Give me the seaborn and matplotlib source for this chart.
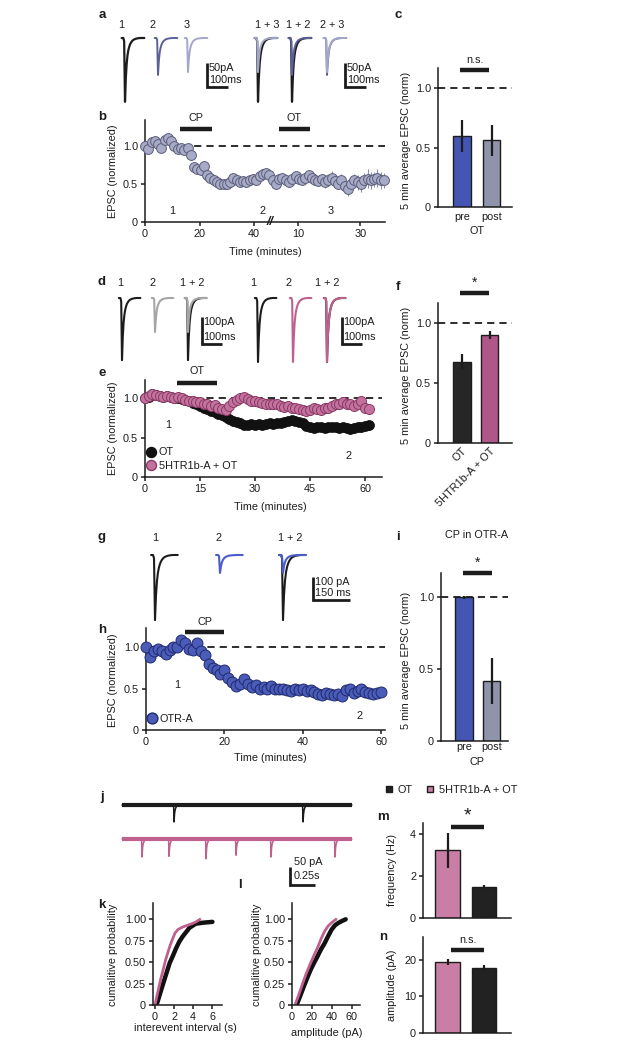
import numpy as np
import matplotlib
matplotlib.use("Agg")
import matplotlib.pyplot as plt
from matplotlib.lines import Line2D
from matplotlib.transforms import Affine2D
import seaborn as sns

# ---------------- data ----------------
# normalised EPSC waveform, 4 ms samples (peak at index 4)
epsc_template = [0.0, 0.0, 0.0, -0.05, -1.0, -0.62, -0.40, -0.27, -0.19, -0.14,
                 -0.10, -0.075, -0.055, -0.04, -0.03, -0.022, -0.016, -0.012,
                 -0.008, -0.005, -0.003, -0.002, 0.0, 0.0, 0.0, 0.0, 0.0, 0.0]
template_peak = 4

# a: example EPSCs (pA) for epochs 1, 2, 3 and their overlays
a_amps = [133, 77, 71]
a_groups = [[0], [1], [2], [0, 2], [0, 1], [1, 2]]
a_labels = ["1", "2", "3", "1 + 3", "1 + 2", "2 + 3"]

# b: time course, CP then OT
b_time = np.arange(0, 88, 1.2)
b_epsc = [1.00, 0.96, 1.05, 1.06, 1.02, 0.97, 1.08, 1.10, 1.06, 1.00,
          0.96, 0.97, 0.94, 0.97, 0.88, 0.72, 0.70, 0.68, 0.73, 0.62,
          0.58, 0.55, 0.52, 0.50, 0.50, 0.50, 0.53, 0.58, 0.55, 0.52,
          0.54, 0.52, 0.55, 0.57, 0.55, 0.60, 0.63, 0.64, 0.62, 0.55,
          0.50, 0.56, 0.58, 0.55, 0.52, 0.56, 0.60, 0.57, 0.55, 0.58,
          0.62, 0.58, 0.55, 0.54, 0.57, 0.52, 0.55, 0.58, 0.54, 0.50,
          0.55, 0.47, 0.44, 0.50, 0.55, 0.52, 0.50, 0.55, 0.57, 0.55,
          0.56, 0.58, 0.55, 0.55]
b_sem = [0.02, 0.02, 0.02, 0.02, 0.02, 0.02, 0.02, 0.02, 0.02, 0.02,
         0.02, 0.02, 0.02, 0.02, 0.02, 0.02, 0.02, 0.02, 0.02, 0.02,
         0.02, 0.02, 0.02, 0.02, 0.02, 0.02, 0.02, 0.02, 0.02, 0.02,
         0.02, 0.02, 0.02, 0.02, 0.02, 0.03, 0.03, 0.03, 0.03, 0.03,
         0.03, 0.03, 0.03, 0.03, 0.03, 0.04, 0.04, 0.04, 0.04, 0.04,
         0.05, 0.05, 0.05, 0.06, 0.06, 0.07, 0.08, 0.09, 0.08, 0.07,
         0.08, 0.09, 0.10, 0.09, 0.08, 0.10, 0.11, 0.10, 0.12, 0.11,
         0.10, 0.12, 0.11, 0.10]
b_xticks = [0, 20, 40, 56, 79]
b_xticklabels = ["0", "20", "40", "10", "30"]

# c: 5 min average, OT pre / post
c_groups = ["pre", "post"]
c_mean = [0.60, 0.56]
c_sem = [0.135, 0.13]

# d: example EPSCs, OT alone and 5HTR1b-A + OT
d_amps = [230, 126, 237, 237]
d_groups = [[0], [1], [0, 1], [2], [3], [2, 3]]
d_labels = ["1", "2", "1 + 2", "1", "2", "1 + 2"]

# e: time course
e_time = np.arange(0, 62)
e_ot = [1.00, 1.02, 1.05, 1.04, 1.03, 1.02, 1.03, 1.02, 1.00,
        1.00, 0.99, 0.98, 0.96, 0.94, 0.92,
        0.90, 0.88, 0.86, 0.84, 0.82, 0.80, 0.78, 0.76,
        0.73, 0.71, 0.70, 0.68, 0.66, 0.66, 0.67,
        0.66, 0.67, 0.66, 0.67, 0.68, 0.67, 0.68, 0.69, 0.70, 0.71, 0.72, 0.71, 0.70, 0.68,
        0.65, 0.63, 0.62, 0.63, 0.64, 0.62, 0.63, 0.64, 0.63, 0.62, 0.63, 0.62, 0.61, 0.62,
        0.64, 0.63, 0.65, 0.66]
e_ot_sem = [0.02, 0.02, 0.02, 0.02, 0.02, 0.02, 0.02, 0.02, 0.02, 0.02,
            0.02, 0.02, 0.03, 0.03, 0.03, 0.03, 0.03, 0.03, 0.03, 0.03,
            0.04, 0.04, 0.04, 0.04, 0.04, 0.04, 0.04, 0.04, 0.04, 0.04,
            0.04, 0.04, 0.04, 0.04, 0.04, 0.04, 0.05, 0.05, 0.05, 0.05,
            0.05, 0.05, 0.05, 0.05, 0.05, 0.05, 0.05, 0.05, 0.05, 0.05,
            0.05, 0.05, 0.05, 0.05, 0.05, 0.06, 0.06, 0.06, 0.06, 0.06,
            0.06, 0.06]
e_5ht = [1.00, 1.03, 1.05, 1.04, 1.03, 1.02, 1.03, 1.01, 1.00,
         1.02, 1.00, 0.98, 0.97, 0.96, 0.95,
         0.95, 0.93, 0.92, 0.90, 0.91, 0.88, 0.86, 0.85,
         0.90, 0.95, 0.98, 1.00, 1.02, 0.99, 0.97,
         0.96, 0.95, 0.94, 0.93, 0.92, 0.93, 0.92, 0.90, 0.89, 0.90, 0.88, 0.87, 0.86, 0.85,
         0.84, 0.85, 0.87, 0.86, 0.85, 0.87, 0.88, 0.90, 0.92, 0.93, 0.95, 0.93, 0.92, 0.90,
         0.93, 0.97, 0.88, 0.86]

# f: 5 min average
f_groups = ["OT", "5HTR1b-A + OT"]
f_mean = [0.68, 0.90]
f_sem = [0.06, 0.035]

# g: example EPSCs, OTR-A
g_amps = [283, 78]
g_groups = [[0], [1], [0, 1]]
g_labels = ["1", "2", "1 + 2"]

# h: time course, CP in OTR-A
h_time = np.arange(0, 61)
h_otra = [1.00, 0.88, 0.95, 0.98, 0.95, 0.92, 0.97, 1.00, 1.00, 1.08,
          1.05, 0.98, 0.96, 1.05, 0.95, 0.90, 0.80, 0.75, 0.72, 0.68,
          0.72, 0.63, 0.58, 0.53, 0.55, 0.62, 0.56, 0.52, 0.54, 0.50,
          0.52, 0.50, 0.53, 0.49, 0.50, 0.50, 0.48, 0.47, 0.50, 0.48,
          0.50, 0.47, 0.48, 0.46, 0.44, 0.42, 0.45, 0.44, 0.42, 0.43,
          0.41, 0.48, 0.50, 0.45, 0.47, 0.50, 0.46, 0.45, 0.44, 0.45,
          0.46]
h_sem = [0.02, 0.02, 0.02, 0.02, 0.02, 0.02, 0.02, 0.02, 0.02, 0.02,
         0.02, 0.02, 0.02, 0.02, 0.02, 0.03, 0.03, 0.03, 0.03, 0.03,
         0.04, 0.04, 0.04, 0.04, 0.04, 0.05, 0.05, 0.05, 0.05, 0.05,
         0.05, 0.05, 0.05, 0.05, 0.05, 0.05, 0.05, 0.05, 0.05, 0.05,
         0.05, 0.05, 0.05, 0.05, 0.05, 0.05, 0.05, 0.05, 0.05, 0.05,
         0.05, 0.05, 0.05, 0.05, 0.05, 0.05, 0.05, 0.05, 0.05, 0.05,
         0.05]

# i: 5 min average, CP in OTR-A
i_groups = ["pre", "post"]
i_mean = [1.0, 0.42]
i_sem = [0.01, 0.16]

# j: spontaneous EPSCs (event times in s, amplitudes in pA)
j_duration = 2.3
j_ot_events = [0.56, 1.85]
j_ot_amps = [47, 47]
j_5ht_events = [0.24, 0.51, 0.88, 1.18, 1.53, 2.17]
j_5ht_amps = [50, 48, 55, 45, 50, 50]

# k: interevent interval cumulative distributions
k_ot_x = [0.17, 0.5, 0.86, 1.2, 1.54, 1.9, 2.2, 2.55, 2.9, 3.25, 3.6, 4.0, 4.3, 4.7, 5.0, 5.5, 6.0]
k_ot_y = [0.0, 0.12, 0.25, 0.37, 0.49, 0.58, 0.66, 0.74, 0.80, 0.85, 0.90, 0.93, 0.95, 0.955, 0.96, 0.965, 0.97]
k_5ht_x = [0.0, 0.3, 0.6, 0.86, 1.1, 1.37, 1.6, 1.88, 2.1, 2.4, 2.9, 3.4, 3.9, 4.3, 4.7]
k_5ht_y = [0.0, 0.15, 0.30, 0.41, 0.52, 0.62, 0.70, 0.78, 0.84, 0.88, 0.91, 0.93, 0.95, 0.97, 1.0]

# l: amplitude cumulative distributions
l_ot_x = [4.6, 8, 11.6, 15, 18.6, 22, 25.6, 29, 32.6, 36, 39.6, 43, 46.7, 50, 53.7]
l_ot_y = [0.0, 0.10, 0.21, 0.31, 0.41, 0.49, 0.57, 0.65, 0.72, 0.80, 0.88, 0.93, 0.96, 0.98, 1.0]
l_5ht_x = [3.0, 6.5, 10, 14, 18.6, 22, 25.6, 29, 32.6, 36, 39.6, 44]
l_5ht_y = [0.0, 0.11, 0.23, 0.36, 0.49, 0.58, 0.67, 0.77, 0.86, 0.92, 0.96, 1.0]

# m, n: sEPSC frequency and amplitude
m_groups = ["5HTR1b-A + OT", "OT"]
m_mean = [3.2, 1.48]
m_sem = [0.85, 0.08]
n_mean = [19.5, 17.8]
n_sem = [0.9, 0.7]

# ---------------- style ----------------
W, H = 627, 1049
INK = "#1c1c1c"
BLUE = "#4455b3"
GREYBLUE = "#8f94aa"
PINK_TRACE = "#c0608f"
PINK_BAR_F = "#b0578a"
PINK_BAR_M = "#c97ea6"
FS = 7.8

sns.set_style("ticks")
plt.rcParams["font.family"] = ["Liberation Sans", "DejaVu Sans"]
plt.rcParams.update({
    "font.size": FS, "axes.linewidth": 1.1, "text.color": INK,
    "axes.edgecolor": INK, "xtick.color": INK, "ytick.color": INK,
    "xtick.major.width": 1.1, "ytick.major.width": 1.1,
    "xtick.major.size": 3, "ytick.major.size": 3,
    "xtick.major.pad": 2, "ytick.major.pad": 2,
    "xtick.labelsize": FS, "ytick.labelsize": FS,
})

fig = plt.figure(figsize=(W / 100, H / 100), dpi=100)
px_tf = Affine2D().scale(1 / W, -1 / H).translate(0, 1) + fig.transFigure


def px_text(x, y, s, **kw):
    kw.setdefault("ha", "center")
    kw.setdefault("va", "center")
    kw.setdefault("fontsize", FS)
    fig.text(x, y, s, transform=px_tf, **kw)


def px_axes(box):
    l, t, r, b = box
    return fig.add_axes([l / W, 1 - b / H, (r - l) / W, (b - t) / H])


def trace_axes(box, base_px, px_per_x, px_per_y):
    l, t, r, b = box
    ax = px_axes(box)
    ax.set_xlim(0, (r - l) / px_per_x)
    ax.set_ylim(-(b - base_px) / px_per_y, (base_px - t) / px_per_y)
    ax.axis("off")
    to_x = lambda px: (px - l) / px_per_x
    to_y = lambda py: (base_px - py) / px_per_y
    return ax, to_x, to_y


def draw_epsc(ax, peak_x, amp, color, lw, dt):
    t = peak_x + (np.arange(len(epsc_template)) - template_peak) * dt
    ax.plot(t, amp * np.array(epsc_template), color=color, lw=lw,
            solid_joinstyle="round", solid_capstyle="round")


def scale_bar(ax, x, y, dy, dx, ylab, xlab, off, ylab_y=None, xlab_y=None):
    ax.plot([x, x, x + dx], [y + dy, y, y], color=INK, lw=2.0,
            solid_joinstyle="miter", solid_capstyle="butt")
    if ylab_y is None:
        ax.text(x + off, y + dy, ylab, ha="left", va="top", fontsize=FS)
        ax.text(x + off, y + dy * 0.08, xlab, ha="left", va="bottom", fontsize=FS)
    else:
        ax.text(x + off, ylab_y, ylab, ha="left", va="center", fontsize=FS)
        ax.text(x + off, xlab_y, xlab, ha="left", va="center", fontsize=FS)


def style_axes(ax):
    sns.despine(ax=ax)
    ax.tick_params(direction="out")


def sig(ax, x0, x1, y, ty, s, size=FS):
    ax.plot([x0, x1], [y, y], color=INK, lw=3.2, solid_capstyle="butt", clip_on=False)
    ax.text((x0 + x1) / 2, ty, s, ha="center", va="center", fontsize=size)


def bar_panel(box, groups, means, sems, colors, width, centers_px, ylim, xpad=2):
    ax = px_axes(box)
    sns.barplot(x=groups, y=means, hue=groups, palette=colors, ax=ax,
                width=width, edgecolor=INK, linewidth=1.0, legend=False,
                errorbar=None, saturation=1)
    ax.errorbar(range(len(means)), means, yerr=sems, fmt="none",
                ecolor=INK, elinewidth=1.6, capsize=0, zorder=3)
    sp = centers_px[1] - centers_px[0]
    ax.set_xlim(-(centers_px[0] - box[0]) / sp, 1 + (box[2] - centers_px[1]) / sp)
    ax.set_ylim(*ylim)
    ax.set_xlabel("")
    ax.set_ylabel("")
    style_axes(ax)
    ax.tick_params(axis="x", length=0, pad=xpad)
    return ax


def dashed(ax):
    ax.axhline(1.0, color=INK, lw=1.3, ls=(0, (4, 2.8)), zorder=1)


def norm_ticks(ax):
    ax.set_yticks([0, 0.5, 1.0])
    ax.set_yticklabels(["0", "0.5", "1.0"])


# ---------------- a ----------------
ax, tx, ty = trace_axes((110, 28, 375, 108), 38, 0.21, 0.48)
a_colors = [INK, "#5b6197", "#a3a8c8"]
a_peaks = [125, 158, 188, 258, 292, 327]
a_label_x = [121, 153, 187, 267, 298, 332]
for grp, pk, lab, lx in zip(a_groups, a_peaks, a_labels, a_label_x):
    for k in grp:
        draw_epsc(ax, tx(pk), a_amps[k], a_colors[k], 1.6 if k == 0 else 1.4, 4.0)
    px_text(lx, 25, lab)
for sx in [207, 345]:
    scale_bar(ax, tx(sx), ty(87), 50, 100, "50pA", "100ms", 8)

# ---------------- b ----------------
ax = px_axes((145, 120, 385, 222))
dashed(ax)
ax.errorbar(b_time, b_epsc, yerr=b_sem, fmt="none", ecolor="#8c90a8", elinewidth=0.8, zorder=2)
sns.scatterplot(x=b_time, y=b_epsc, ax=ax, s=50, color="#a7abc8", edgecolor="#5a5e78",
                linewidth=0.7, clip_on=False, zorder=3)
ax.set_xlim(0, 88)
ax.set_ylim(0, 1.34)
ax.set_xticks(b_xticks)
ax.set_xticklabels(b_xticklabels)
norm_ticks(ax)
style_axes(ax)
sig(ax, 12.8, 24.6, 1.22, 1.37, "CP")
sig(ax, 49, 60.5, 1.22, 1.37, "OT")
for xx, s in zip([10, 43, 68], ["1", "2", "3"]):
    ax.text(xx, 0.15, s, ha="center", va="center")
ax.text(46, 0.0, "//", ha="center", va="center", fontsize=9, fontweight="bold", style="italic")
px_text(113, 171, "EPSC (normalized)", rotation=90)
px_text(265, 252, "Time (minutes)")

# ---------------- c ----------------
ax = bar_panel((438, 68, 512, 207), c_groups, c_mean, c_sem, [BLUE, GREYBLUE], 0.61,
               [462, 491.5], (0, 1.17), xpad=3.5)
norm_ticks(ax)
dashed(ax)
sig(ax, -0.07, 0.92, 1.15, 1.24, "n.s.")
px_text(477, 231, "OT")
px_text(406, 140, "5 min average EPSC (norm)", rotation=90)

# ---------------- d ----------------
ax, tx, ty = trace_axes((110, 288, 375, 372), 298, 0.2, 0.27)
d_colors = [INK, "#a6a6a6", INK, PINK_TRACE]
d_peaks = [122, 155, 188, 258, 293, 327]
d_label_x = [120, 152, 192, 253, 288, 327]
for grp, pk, lab, lx in zip(d_groups, d_peaks, d_labels, d_label_x):
    for k in grp:
        draw_epsc(ax, tx(pk), d_amps[k], d_colors[k], 1.5, 4.0)
    px_text(lx, 283, lab)
for sx in [202, 342]:
    scale_bar(ax, tx(sx), ty(344), 100, 100, "100pA", "100ms", 8)

# ---------------- e ----------------
ax = px_axes((145, 380, 382, 477))
dashed(ax)
ax.errorbar(e_time, e_ot, yerr=e_ot_sem, fmt="none", ecolor="#111111", elinewidth=0.8, zorder=2)
sns.scatterplot(x=e_time, y=e_ot, ax=ax, s=52, color="#111111", edgecolor="#111111",
                linewidth=0.5, clip_on=False, zorder=3)
sns.scatterplot(x=e_time, y=e_5ht, ax=ax, s=52, color="#c3729e", edgecolor="#8a3a66",
                linewidth=0.7, clip_on=False, zorder=4)
ax.set_xlim(0, 64.6)
ax.set_ylim(0, 1.23)
ax.set_xticks([0, 15, 30, 45, 60])
norm_ticks(ax)
style_axes(ax)
sig(ax, 8.7, 19.6, 1.19, 1.34, "OT")
ax.text(6.3, 0.66, "1", ha="center", va="center")
ax.text(55.5, 0.27, "2", ha="center", va="center")
handles = [Line2D([], [], ls="none", marker="o", ms=7.2, mfc="#111111", mec="#111111"),
           Line2D([], [], ls="none", marker="o", ms=7.2, mfc="#c3729e", mec="#8a3a66")]
ax.legend(handles, ["OT", "5HTR1b-A + OT"], loc="lower left", frameon=False,
          bbox_to_anchor=(-0.02, 0.02), handletextpad=0.1, labelspacing=0.3,
          borderaxespad=0, handlelength=1.2, fontsize=FS)
px_text(113, 428, "EPSC (normalized)", rotation=90)
px_text(270, 507, "Time (minutes)")

# ---------------- f ----------------
ax = bar_panel((438, 303, 512, 443), f_groups, f_mean, f_sem, ["#262626", PINK_BAR_F], 0.65,
               [462, 489.5], (0, 1.17))
norm_ticks(ax)
dashed(ax)
ax.set_xticks([0, 1])
ax.set_xticklabels(f_groups, rotation=45, ha="right", rotation_mode="anchor")
sig(ax, -0.07, 0.98, 1.25, 1.34, "*", size=10)
px_text(406, 375, "5 min average EPSC (norm)", rotation=90)

# ---------------- g ----------------
ax, tx, ty = trace_axes((110, 545, 375, 625), 555, 0.247, 0.23)
g_colors = [INK, "#4a5cc8"]
g_peaks = [155, 220, 283]
g_label_x = [155, 218, 290]
for grp, pk, lab, lx in zip(g_groups, g_peaks, g_labels, g_label_x):
    for k in grp:
        draw_epsc(ax, tx(pk), g_amps[k], g_colors[k], 1.5, 4.0)
    px_text(lx, 538, lab)
scale_bar(ax, tx(313), ty(600), 100, 150, "100 pA", "150 ms", 8)

# ---------------- h ----------------
ax = px_axes((146, 628, 385, 730))
dashed(ax)
ax.errorbar(h_time, h_otra, yerr=h_sem, fmt="none", ecolor="#111111", elinewidth=0.8, zorder=2)
sns.scatterplot(x=h_time, y=h_otra, ax=ax, s=62, color="#4b5cb8", edgecolor="#1f2a6e",
                linewidth=0.7, clip_on=False, zorder=3)
ax.set_xlim(0, 61)
ax.set_ylim(0, 1.23)
ax.set_xticks([0, 20, 40, 60])
norm_ticks(ax)
style_axes(ax)
sig(ax, 10, 20, 1.18, 1.30, "CP")
ax.text(8, 0.54, "1", ha="center", va="center")
ax.text(54.5, 0.17, "2", ha="center", va="center")
ax.legend([Line2D([], [], ls="none", marker="o", ms=7.8, mfc="#4b5cb8", mec="#1f2a6e")],
          ["OTR-A"], loc="lower left", frameon=False, bbox_to_anchor=(-0.02, 0.02),
          handletextpad=0.1, borderaxespad=0, handlelength=1.2, fontsize=FS)
px_text(113, 680, "EPSC (normalized)", rotation=90)
px_text(270, 758, "Time (minutes)")

# ---------------- i ----------------
ax = bar_panel((441, 573, 508, 741), i_groups, i_mean, i_sem, [BLUE, GREYBLUE], 0.65,
               [464, 491.5], (0, 1.17), xpad=0.5)
norm_ticks(ax)
dashed(ax)
sig(ax, -0.04, 1.0, 1.17, 1.24, "*", size=10)
px_text(477, 762, "CP")
px_text(477, 535, "CP in OTR-A")
px_text(406, 660, "5 min average EPSC (norm)", rotation=90)

# ---------------- j ----------------
ax, tx, ty = trace_axes((118, 795, 362, 890), 805, 100, 0.36)
t = np.arange(tx(122), tx(122) + j_duration, 0.001)
tmpl_t = (np.arange(len(epsc_template)) - template_peak) * 0.004
for events, amps, offset, color in [(j_ot_events, j_ot_amps, 0.0, INK),
                                    (j_5ht_events, j_5ht_amps, ty(839), PINK_TRACE)]:
    cur = np.full_like(t, offset)
    for ev, amp in zip(events, amps):
        cur += amp * np.interp(t - ev, tmpl_t, epsc_template, left=0, right=0)
    ax.plot([t[0], t[-1]], [offset, offset], color=color, lw=3.0, solid_capstyle="butt")
    ax.plot(t, cur, color=color, lw=1.1)
scale_bar(ax, tx(290), ty(885), 50, 0.25, "50 pA", "0.25s", 0.04,
          ylab_y=ty(862), xlab_y=ty(876))

# ---------------- k ----------------
ax = px_axes((153, 903, 222, 1005))
ax.plot(k_ot_x, k_ot_y, color="#111111", lw=3.2, solid_capstyle="round")
ax.plot(k_5ht_x, k_5ht_y, color=PINK_TRACE, lw=2.0)
ax.set_xlim(-0.2, 7.0)
ax.set_ylim(0, 1.19)
ax.set_xticks([0, 2, 4, 6])
ax.set_yticks([0, 0.25, 0.5, 0.75, 1.0])
ax.set_yticklabels(["0", "0.25", "0.50", "0.75", "1.00"])
style_axes(ax)
px_text(113, 955, "cumalitive probability", rotation=90)
px_text(185, 1028, "interevent interval (s)")

# ---------------- l ----------------
ax = px_axes((292, 903, 360, 1005))
ax.plot(l_ot_x, l_ot_y, color="#111111", lw=3.2, solid_capstyle="round")
ax.plot(l_5ht_x, l_5ht_y, color=PINK_TRACE, lw=2.0)
ax.set_xlim(0, 68)
ax.set_ylim(0, 1.19)
ax.set_xticks([0, 20, 40, 60])
ax.set_yticks([0, 0.25, 0.5, 0.75, 1.0])
ax.set_yticklabels(["0", "0.25", "0.50", "0.75", "1.00"])
style_axes(ax)
px_text(257, 955, "cumalitive probability", rotation=90)
px_text(327, 1033, "amplitude (pA)")

# ---------------- m ----------------
ax = bar_panel((423, 823, 511, 918), m_groups, m_mean, m_sem, [PINK_BAR_M, "#222222"], 0.68,
               [447.5, 484], (0, 4.5))
ax.set_xticks([])
ax.set_yticks([0, 2, 4])
sig(ax, 0.1, 1.0, 4.29, 4.85, "*", size=14)
px_text(392, 870, "frequency (Hz)", rotation=90)

# ---------------- n ----------------
ax = bar_panel((423, 937, 511, 1033), m_groups, n_mean, n_sem, [PINK_BAR_M, "#222222"], 0.68,
               [447.5, 484], (0, 26.3))
ax.set_xticks([])
ax.set_yticks([0, 10, 20])
sig(ax, 0.1, 1.0, 22.7, 25.6, "n.s.")
px_text(392, 985, "amplitude (pA)", rotation=90)

# top legend for j-n
fig.legend([Line2D([], [], ls="none", marker="s", ms=5, mfc="#222222", mec=INK),
            Line2D([], [], ls="none", marker="s", ms=5, mfc=PINK_BAR_M, mec=INK)],
           ["OT", "5HTR1b-A + OT"], loc="center left", ncol=2, frameon=False,
           bbox_to_anchor=(374 / W, 1 - 790 / H), handletextpad=0.3,
           columnspacing=1.1, handlelength=1.0, fontsize=FS)

# panel letters
for s, x, y in [("a", 102, 15), ("b", 102, 117), ("c", 398, 15), ("d", 102, 282),
                ("e", 102, 373), ("f", 398, 287), ("g", 102, 537), ("h", 102, 630),
                ("i", 398, 537), ("j", 102, 797), ("k", 102, 905), ("l", 240, 885),
                ("m", 383, 817), ("n", 383, 937)]:
    px_text(x, y, s, fontsize=9.5, fontweight="bold")

fig.savefig("out.png", dpi=100)
